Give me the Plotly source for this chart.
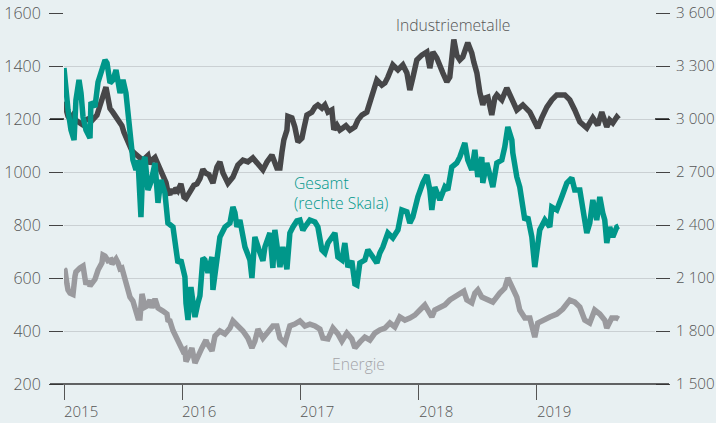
import plotly.graph_objects as go

# Time in decimal years
ind_t = [2015.000, 2015.017, 2015.034, 2015.051, 2015.076, 2015.101, 2015.127, 2015.152, 2015.178, 2015.203,
         2015.228, 2015.254, 2015.279, 2015.304, 2015.330, 2015.355, 2015.372, 2015.389, 2015.414, 2015.440,
         2015.465, 2015.490, 2015.507, 2015.524, 2015.541, 2015.558, 2015.575, 2015.600, 2015.626, 2015.651,
         2015.677, 2015.693, 2015.710, 2015.727, 2015.744, 2015.770, 2015.795, 2015.812, 2015.837, 2015.863,
         2015.879, 2015.896, 2015.913, 2015.930, 2015.947, 2015.964, 2015.989, 2016.015, 2016.032, 2016.049,
         2016.074, 2016.099, 2016.125, 2016.150, 2016.175, 2016.201, 2016.226, 2016.260, 2016.294, 2016.319,
         2016.345, 2016.387, 2016.429, 2016.471, 2016.514, 2016.556, 2016.598, 2016.641, 2016.683, 2016.717,
         2016.759, 2016.801, 2016.827, 2016.844, 2016.860, 2016.886, 2016.894, 2016.928, 2016.953, 2016.979,
         2017.013, 2017.030, 2017.055, 2017.097, 2017.123, 2017.148, 2017.182, 2017.207, 2017.233, 2017.266,
         2017.283, 2017.309, 2017.334, 2017.359, 2017.385, 2017.419, 2017.461, 2017.486, 2017.520, 2017.562,
         2017.588, 2017.613, 2017.647, 2017.689, 2017.715, 2017.740, 2017.782, 2017.825, 2017.867, 2017.901,
         2017.926, 2017.951, 2017.985, 2018.027, 2018.070, 2018.095, 2018.121, 2018.154, 2018.180, 2018.205,
         2018.239, 2018.264, 2018.298, 2018.323, 2018.349, 2018.374, 2018.416, 2018.450, 2018.467, 2018.493,
         2018.518, 2018.543, 2018.560, 2018.586, 2018.619, 2018.645, 2018.662, 2018.704, 2018.746, 2018.789,
         2018.831, 2018.882, 2018.941, 2018.966, 2019.008, 2019.042, 2019.085, 2019.127, 2019.169, 2019.237,
         2019.279, 2019.321, 2019.364, 2019.423, 2019.474, 2019.516, 2019.550, 2019.592, 2019.617, 2019.643,
         2019.677, 2019.693]
ind_v = [1265, 1225, 1210, 1200, 1215, 1195, 1185, 1180, 1195, 1200,
         1190, 1205, 1215, 1250, 1290, 1320, 1280, 1240, 1225, 1210,
         1190, 1175, 1150, 1135, 1120, 1095, 1080, 1070, 1060, 1045,
         1040, 1055, 1062, 1030, 1045, 1055, 1030, 1015, 990, 960,
         925, 915, 935, 920, 940, 930, 955, 905, 900, 915,
         930, 950, 955, 975, 1010, 995, 990, 958, 1019, 1038,
         996, 958, 981, 1026, 1045, 1038, 1053, 1026, 1008, 1038,
         1064, 1015, 1015, 1075, 1121, 1158, 1210, 1204, 1170, 1113,
         1128, 1165, 1215, 1226, 1245, 1253, 1241, 1253, 1226, 1234,
         1160, 1177, 1158, 1166, 1175, 1158, 1170, 1196, 1215, 1226,
         1260, 1302, 1347, 1328, 1336, 1358, 1404, 1385, 1404, 1374,
         1309, 1355, 1423, 1441, 1453, 1392, 1453, 1430, 1396, 1374,
         1340, 1358, 1500, 1441, 1423, 1434, 1488, 1449, 1415, 1374,
         1300, 1253, 1279, 1283, 1215, 1280, 1291, 1272, 1317, 1279,
         1234, 1253, 1226, 1204, 1166, 1204, 1245, 1272, 1291, 1291,
         1272, 1234, 1189, 1166, 1204, 1177, 1226, 1170, 1196, 1185,
         1208, 1200]

ges_t = [2015.000, 2015.008, 2015.034, 2015.059, 2015.085, 2015.101, 2015.127, 2015.144, 2015.161, 2015.186,
         2015.220, 2015.228, 2015.262, 2015.288, 2015.313, 2015.347, 2015.364, 2015.389, 2015.414, 2015.440,
         2015.474, 2015.499, 2015.524, 2015.541, 2015.558, 2015.583, 2015.609, 2015.626, 2015.651, 2015.668,
         2015.685, 2015.710, 2015.736, 2015.770, 2015.795, 2015.820, 2015.854, 2015.879, 2015.922, 2015.939,
         2015.964, 2015.989, 2016.023, 2016.032, 2016.049, 2016.074, 2016.108, 2016.133, 2016.150, 2016.175,
         2016.192, 2016.218, 2016.252, 2016.260, 2016.294, 2016.319, 2016.362, 2016.404, 2016.429, 2016.446,
         2016.463, 2016.488, 2016.531, 2016.573, 2016.590, 2016.615, 2016.658, 2016.683, 2016.700, 2016.717,
         2016.742, 2016.767, 2016.784, 2016.827, 2016.852, 2016.886, 2016.911, 2016.937, 2016.970, 2016.996,
         2017.021, 2017.038, 2017.080, 2017.123, 2017.148, 2017.182, 2017.207, 2017.233, 2017.266, 2017.292,
         2017.317, 2017.351, 2017.376, 2017.402, 2017.435, 2017.461, 2017.478, 2017.503, 2017.545, 2017.571,
         2017.613, 2017.647, 2017.672, 2017.698, 2017.740, 2017.782, 2017.825, 2017.858, 2017.901, 2017.926,
         2017.951, 2017.994, 2018.036, 2018.070, 2018.095, 2018.112, 2018.137, 2018.180, 2018.222, 2018.247,
         2018.281, 2018.323, 2018.349, 2018.391, 2018.416, 2018.450, 2018.476, 2018.501, 2018.535, 2018.543,
         2018.577, 2018.603, 2018.628, 2018.662, 2018.704, 2018.729, 2018.755, 2018.789, 2018.797, 2018.831,
         2018.856, 2018.882, 2018.899, 2018.924, 2018.958, 2018.983, 2019.008, 2019.025, 2019.068, 2019.110,
         2019.127, 2019.169, 2019.211, 2019.254, 2019.296, 2019.321, 2019.364, 2019.389, 2019.423, 2019.448,
         2019.474, 2019.507, 2019.533, 2019.558, 2019.575, 2019.592, 2019.617, 2019.643, 2019.677, 2019.693]
ges_v = [3289, 3221, 3051, 2938, 2881, 3108, 3221, 3147, 3011, 2938,
         2892, 3096, 3068, 3209, 3260, 3334, 3317, 3204, 3221, 3277,
         3147, 3221, 3147, 3030, 2898, 2768, 2711, 2768, 2445, 2751,
         2785, 2598, 2643, 2751, 2525, 2655, 2581, 2411, 2389, 2276,
         2185, 2202, 2106, 1959, 1862, 2049, 1879, 1959, 2000, 2213,
         2202, 2129, 2219, 2032, 2242, 2332, 2389, 2411, 2502, 2470,
         2389, 2428, 2276, 2202, 2100, 2332, 2242, 2197, 2276, 2310,
         2355, 2157, 2372, 2162, 2276, 2150, 2355, 2389, 2423, 2428,
         2370, 2389, 2428, 2417, 2389, 2259, 2242, 2298, 2332, 2355,
         2219, 2202, 2298, 2162, 2197, 2066, 2060, 2185, 2202, 2259,
         2219, 2185, 2242, 2276, 2355, 2327, 2372, 2485, 2474, 2411,
         2445, 2559, 2638, 2683, 2598, 2485, 2615, 2542, 2615, 2598,
         2728, 2751, 2785, 2864, 2768, 2711, 2825, 2672, 2785, 2638,
         2751, 2694, 2615, 2751, 2768, 2842, 2955, 2881, 2808, 2672,
         2615, 2502, 2428, 2445, 2332, 2162, 2276, 2372, 2428, 2389,
         2502, 2485, 2559, 2638, 2666, 2598, 2598, 2485, 2355, 2411,
         2542, 2428, 2559, 2468, 2428, 2298, 2389, 2332, 2389, 2394]

ene_t = [2015.000, 2015.008, 2015.025, 2015.034, 2015.051, 2015.076, 2015.093, 2015.101, 2015.135, 2015.144,
         2015.161, 2015.186, 2015.203, 2015.220, 2015.262, 2015.288, 2015.321, 2015.330, 2015.347, 2015.372,
         2015.397, 2015.406, 2015.431, 2015.440, 2015.457, 2015.474, 2015.490, 2015.516, 2015.541, 2015.558,
         2015.583, 2015.600, 2015.626, 2015.643, 2015.651, 2015.660, 2015.685, 2015.702, 2015.727, 2015.744,
         2015.770, 2015.795, 2015.837, 2015.871, 2015.879, 2015.896, 2015.922, 2015.947, 2015.964, 2015.981,
         2016.006, 2016.023, 2016.032, 2016.049, 2016.066, 2016.082, 2016.108, 2016.133, 2016.150, 2016.167,
         2016.201, 2016.209, 2016.252, 2016.277, 2016.319, 2016.362, 2016.404, 2016.429, 2016.471, 2016.514,
         2016.556, 2016.590, 2016.615, 2016.641, 2016.683, 2016.725, 2016.767, 2016.801, 2016.827, 2016.869,
         2016.911, 2016.953, 2016.996, 2017.038, 2017.080, 2017.123, 2017.165, 2017.190, 2017.233, 2017.275,
         2017.317, 2017.351, 2017.393, 2017.435, 2017.461, 2017.503, 2017.545, 2017.588, 2017.630, 2017.672,
         2017.715, 2017.757, 2017.799, 2017.841, 2017.884, 2017.926, 2017.968, 2018.011, 2018.053, 2018.078,
         2018.112, 2018.137, 2018.180, 2018.222, 2018.264, 2018.307, 2018.349, 2018.383, 2018.408, 2018.450,
         2018.476, 2018.501, 2018.535, 2018.577, 2018.628, 2018.687, 2018.729, 2018.755, 2018.797, 2018.831,
         2018.856, 2018.899, 2018.941, 2018.983, 2019.008, 2019.051, 2019.110, 2019.169, 2019.220, 2019.279,
         2019.321, 2019.364, 2019.406, 2019.448, 2019.490, 2019.533, 2019.575, 2019.592, 2019.634, 2019.677,
         2019.693]
ene_v = [634, 630, 577, 555, 543, 538, 607, 623, 638, 642,
         645, 575, 590, 570, 595, 630, 657, 687, 683, 665,
         668, 653, 664, 672, 657, 635, 638, 590, 562, 528,
         513, 490, 449, 449, 530, 540, 490, 494, 517, 487,
         521, 487, 475, 464, 441, 438, 402, 377, 372, 351,
         325, 330, 285, 300, 320, 336, 279, 306, 328, 336,
         366, 355, 325, 381, 400, 389, 411, 438, 419, 400,
         373, 336, 362, 407, 373, 400, 419, 419, 373, 355,
         419, 426, 438, 419, 426, 419, 407, 373, 370, 411,
         389, 362, 392, 370, 336, 358, 377, 366, 392, 404,
         411, 430, 415, 453, 441, 449, 460, 479, 498, 479,
         453, 479, 490, 498, 517, 528, 536, 550, 517, 506,
         543, 555, 528, 520, 509, 543, 562, 600, 566, 528,
         479, 449, 449, 377, 430, 441, 453, 464, 483, 517,
         509, 490, 441, 430, 479, 464, 441, 411, 449, 449,
         445]

years = [2015, 2016, 2017, 2018, 2019]
left_ticks = [200, 400, 600, 800, 1000, 1200, 1400, 1600]
right_ticks = [1500, 1800, 2100, 2400, 2700, 3000, 3300, 3600]
right_labels = ["1 500", "1 800", "2 100", "2 400", "2 700", "3 000", "3 300", "3 600"]

BG = "#e8f0f2"
GRID = "#cad0d3"
TICK = "#444444"
LABEL = "#555555"
FONT = "Open Sans"

fig = go.Figure()
fig.add_trace(go.Scatter(x=ene_t, y=ene_v, mode="lines", name="Energie",
                         line=dict(color="#9a9a9e", width=5.5), yaxis="y"))
fig.add_trace(go.Scatter(x=ind_t, y=ind_v, mode="lines", name="Industriemetalle",
                         line=dict(color="#474749", width=5.5), yaxis="y"))
fig.add_trace(go.Scatter(x=ges_t, y=ges_v, mode="lines", name="Gesamt",
                         line=dict(color="#00978a", width=5.5), yaxis="y2"))

left_font = dict(family=FONT, size=16, color=LABEL, weight=300)
right_font = dict(family=FONT, size=15.2, color=LABEL, weight=300)

fig.update_layout(
    width=716, height=423,
    margin=dict(l=64, r=61, t=13, b=39, autoexpand=False),
    paper_bgcolor=BG, plot_bgcolor=BG,
    showlegend=False,
    font=dict(family=FONT),
    xaxis=dict(range=[2015, 2020], tickvals=years, ticks="outside", ticklen=15,
               tickcolor="#555555", tickwidth=1.2, showticklabels=False,
               showgrid=False, zeroline=False, showline=False, automargin=False),
    yaxis=dict(range=[200, 1600], tickvals=left_ticks, ticks="outside", ticklen=14,
               tickcolor=TICK, tickwidth=1.3, showgrid=True, gridcolor=GRID, gridwidth=1.3,
               zeroline=False, showline=False, tickfont=left_font, ticklabelstandoff=5,
               automargin=False),
    yaxis2=dict(range=[1500, 3600], tickvals=right_ticks, ticktext=right_labels,
                overlaying="y", side="right", ticks="outside", ticklen=14,
                tickcolor=TICK, tickwidth=1.3, showgrid=False, zeroline=False,
                showline=False, tickfont=right_font, ticklabelstandoff=3, automargin=False),
)

# bottom axis line extending under both tick columns
ext = 14 / 591
fig.add_shape(type="line", xref="paper", yref="paper", x0=-ext, x1=1 + ext, y0=0, y1=0,
              line=dict(color="#333333", width=1.3))
# darker ticks at 1200 (left) / 3000 (right)
fig.add_shape(type="line", xref="paper", yref="y", x0=-ext, x1=0, y0=1200, y1=1200,
              line=dict(color="#111111", width=1.4))
fig.add_shape(type="line", xref="paper", yref="y2", x0=1, x1=1 + ext, y0=3000, y1=3000,
              line=dict(color="#111111", width=1.4))

for yr in years:
    fig.add_annotation(x=yr, y=0, xref="x", yref="paper", text=str(yr), showarrow=False,
                       xanchor="left", yanchor="middle", yshift=-27, xshift=-2,
                       font=dict(family=FONT, size=15, color=LABEL, weight=300))

ann_size = 15.7
fig.add_annotation(x=2017.791, y=1555, xref="x", yref="y", text="Industriemetalle",
                   showarrow=False, xanchor="left", yanchor="middle",
                   font=dict(family=FONT, size=ann_size, color=LABEL, weight=300))
fig.add_annotation(x=2016.928, y=958, xref="x", yref="y", text="Gesamt",
                   showarrow=False, xanchor="left", yanchor="middle",
                   font=dict(family=FONT, size=ann_size, color="#00978a", weight=300))
fig.add_annotation(x=2016.928, y=883, xref="x", yref="y", text="(rechte Skala)",
                   showarrow=False, xanchor="left", yanchor="middle",
                   font=dict(family=FONT, size=ann_size, color="#00978a", weight=300))
fig.add_annotation(x=2017.249, y=275, xref="x", yref="y", text="Energie",
                   showarrow=False, xanchor="left", yanchor="middle",
                   font=dict(family=FONT, size=ann_size, color="#a4a4a8", weight=300))

fig.write_html("out.html", config={"displayModeBar": False},
               post_script="document.body.style.margin='0px';"
                           "document.body.style.background='" + BG + "';")
